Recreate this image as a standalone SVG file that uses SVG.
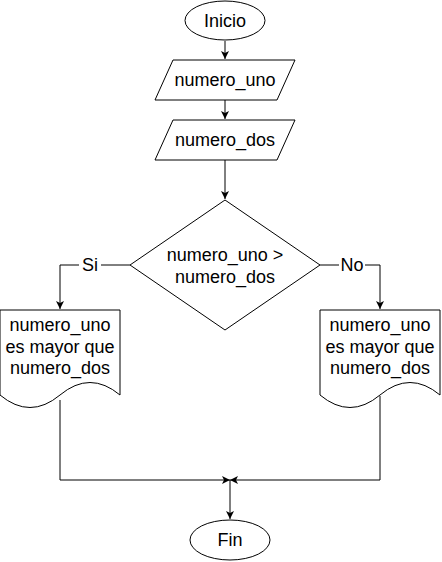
<svg xmlns="http://www.w3.org/2000/svg" width="442" height="562" viewBox="0 0 442 562">
<style>
.s{fill:#fff;stroke:#000;stroke-width:1}
.t{font-family:"Liberation Sans",Arial,sans-serif;font-size:18px;fill:#000;text-anchor:middle}
.c{fill:none;stroke:#000;stroke-width:1}
</style>
<defs>
<marker id="a" viewBox="0 0 10 10" refX="10" refY="5" markerWidth="8" markerHeight="8" markerUnits="userSpaceOnUse" orient="auto">
<path d="M0,0 L10,5 L0,10 L2.5,5 Z" fill="#000"/>
</marker>
</defs>
<rect width="442" height="562" fill="#fff"/>
<g id="connectors">
<path class="c" d="M225,41 V59" marker-end="url(#a)"/>
<path class="c" d="M225,100 V119" marker-end="url(#a)"/>
<path class="c" d="M225,160 V199" marker-end="url(#a)"/>
<path class="c" d="M130,265 H60 V309" marker-end="url(#a)"/>
<path class="c" d="M320,265 H380 V309" marker-end="url(#a)"/>
<path class="c" d="M60,400 V480 H230" marker-end="url(#a)"/>
<path class="c" d="M380,396 V480 H230" marker-end="url(#a)"/>
<path class="c" d="M230,480 V519" marker-end="url(#a)"/>
<rect x="79" y="255" width="22" height="20" fill="#fff"/>
<text class="t" x="90" y="271">Si</text>
<rect x="339" y="255" width="26" height="20" fill="#fff"/>
<text class="t" x="352" y="271">No</text>
</g>
<g id="inicio">
<ellipse class="s" cx="225" cy="20.5" rx="40" ry="19.5"/>
<text class="t" x="225" y="27">Inicio</text>
</g>
<g id="in1">
<polygon class="s" points="173,60 295,60 277,100 155,100"/>
<text class="t" x="225" y="86">numero_uno</text>
</g>
<g id="in2">
<polygon class="s" points="173,120 295,120 277,160 155,160"/>
<text class="t" x="225" y="146">numero_dos</text>
</g>
<g id="decision">
<polygon class="s" points="225,200 320,265 225,330 130,265"/>
<text class="t" x="225" y="261">numero_uno &gt;</text>
<text class="t" x="225" y="283">numero_dos</text>
</g>
<g id="outSi">
<path class="s" d="M0,310 H120 V395 Q90,370 60,395 Q30,420 0,395 Z"/>
<text class="t" x="60" y="331">numero_uno</text>
<text class="t" x="60" y="353">es mayor que</text>
<text class="t" x="60" y="374">numero_dos</text>
</g>
<g id="outNo">
<path class="s" d="M320,310 H440 V395 Q410,370 380,395 Q350,420 320,395 Z"/>
<text class="t" x="380" y="331">numero_uno</text>
<text class="t" x="380" y="353">es mayor que</text>
<text class="t" x="380" y="374">numero_dos</text>
</g>
<g id="fin">
<ellipse class="s" cx="230" cy="540" rx="40" ry="20"/>
<text class="t" x="230" y="546">Fin</text>
</g>
</svg>
